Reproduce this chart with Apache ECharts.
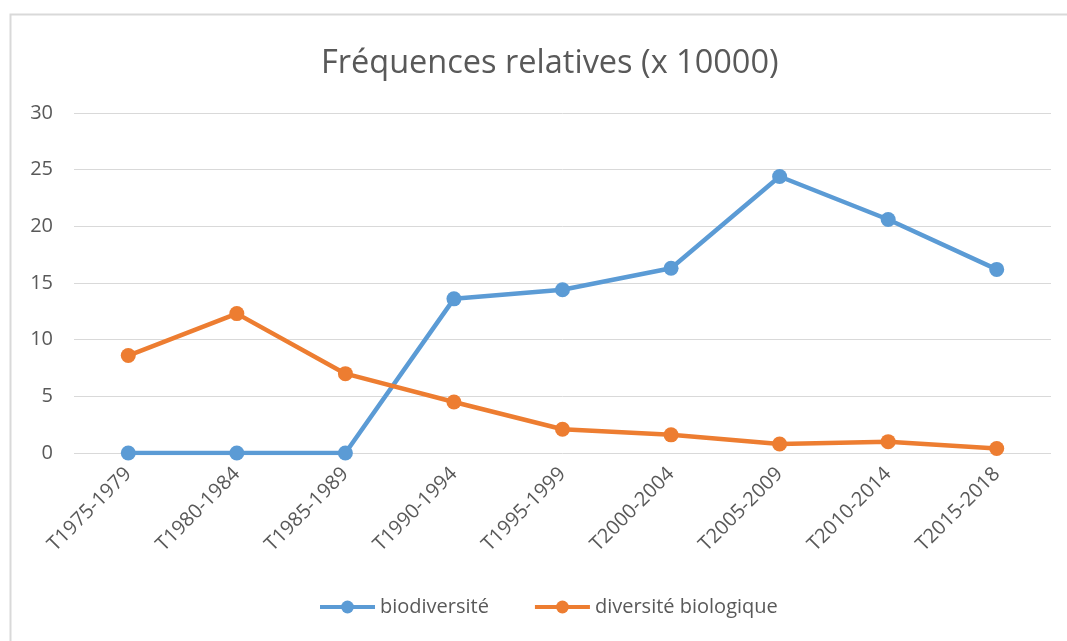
<!DOCTYPE html>
<html>
<head>
<meta charset="utf-8">
<style>
  html, body { margin: 0; padding: 0; background: #fff; }
  #chart { width: 1067px; height: 641px; }
</style>
<script src="https://cdn.jsdelivr.net/npm/echarts@6/dist/echarts.min.js"></script>
</head>
<body>
<div id="chart"></div>
<script>
// périodes
const periods = ['T1975-1979', 'T1980-1984', 'T1985-1989', 'T1990-1994', 'T1995-1999',
	'T2000-2004', 'T2005-2009', 'T2010-2014', 'T2015-2018']
const biodiversite = [0, 0, 0, 13.6, 14.4, 16.3, 24.4, 20.6, 16.2]
const diversiteBiologique = [8.6, 12.3, 7.0, 4.5, 2.1, 1.6, 0.8, 1.0, 0.4]
const legendList = ['biodiversité', 'diversité biologique']

const textColor = '#595959'
const fontFamily = '"Open Sans", "Noto Sans", sans-serif'

let myChart = echarts.init(document.getElementById('chart'))
let option = {
	textStyle: { fontFamily: fontFamily },
	color: ['#5B9BD5', '#ED7D31'],
	title: {
		text: 'Fréquences relatives (x 10000)',
		left: 316,
		top: 42,
		textStyle: {
			color: textColor,
			fontSize: 32.5,
			fontWeight: 'normal',
			fontFamily: fontFamily,
		},
	},
	// cadre
	graphic: [
		{
			type: 'rect',
			shape: { x: 10.5, y: 14.5, width: 1080, height: 640 },
			style: { fill: 'none', stroke: '#d9d9d9', lineWidth: 2 },
			silent: true,
		},
	],
	grid: {
		left: 74,
		right: 16,
		top: 113,
		bottom: 188,
		containLabel: false,
	},
	legend: {
		data: legendList,
		bottom: 19,
		left: 313,
		itemWidth: 55,
		itemHeight: 16,
		itemGap: 44,
		lineStyle: { width: 4 },
		textStyle: {
			color: textColor,
			fontSize: 20,
		},
	},
	xAxis: {
		type: 'category',
		data: periods,
		boundaryGap: true,
		axisLine: { show: false },
		axisTick: { show: false },
		axisLabel: {
			rotate: 45,
			color: textColor,
			fontSize: 20,
			interval: 0,
			margin: 18,
		},
	},
	yAxis: {
		type: 'value',
		min: 0,
		max: 30,
		interval: 5,
		axisLine: { show: false },
		axisTick: { show: false },
		axisLabel: {
			color: textColor,
			fontSize: 20,
			margin: 21,
		},
		splitLine: {
			lineStyle: { color: '#d9d9d9', width: 1 },
		},
	},
	series: [
		{
			name: legendList[0],
			type: 'line',
			data: biodiversite,
			symbol: 'circle',
			symbolSize: 15,
			lineStyle: { width: 4.5 },
		},
		{
			name: legendList[1],
			type: 'line',
			data: diversiteBiologique,
			symbol: 'circle',
			symbolSize: 15,
			lineStyle: { width: 4.5 },
		},
	],
}
myChart.setOption(option)
</script>
</body>
</html>
